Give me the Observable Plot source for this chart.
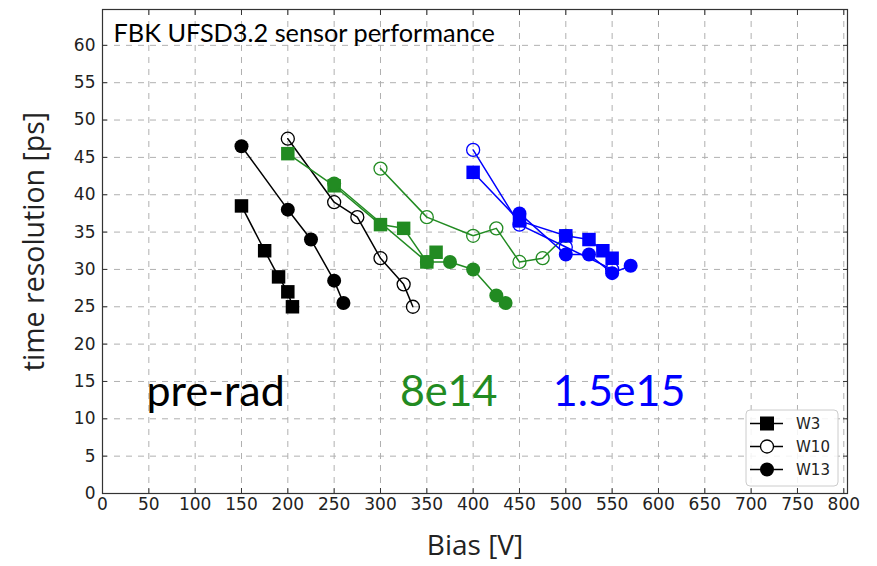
<!DOCTYPE html>
<html><head><meta charset="utf-8">
<script src="https://cdn.jsdelivr.net/npm/d3@7"></script>
<script src="https://cdn.jsdelivr.net/npm/@observablehq/plot@0.6"></script>
<style>body{margin:0;background:#fff}#chart{width:877px;height:566px}</style>
</head><body><div id="chart"></div>
<script>
// ---- tick labels ----
const xTicks = [0,50,100,150,200,250,300,350,400,450,500,550,600,650,700,750,800];
const yTicks = [0,5,10,15,20,25,30,35,40,45,50,55,60];

// ---- series (bias [V], time resolution [ps]) ----
const preW3Bias  = [150,175,190,200,205];
const preW3Res   = [38.5,32.5,29,27,25];
const preW10Bias = [200,250,275,300,325,335];
const preW10Res  = [47.5,39,37,31.5,28,25];
const preW13Bias = [150,200,225,250,260];
const preW13Res  = [46.5,38,34,28.5,25.5];

const midW3Bias  = [200,250,300,325,350,360];
const midW3Res   = [45.5,41.2,36,35.5,31,32.3];
const midW10Bias = [300,350,400,425,450,475,500];
const midW10Res  = [43.5,37,34.5,35.5,31,31.5,34.5];
const midW13Bias = [250,350,375,400,425,435];
const midW13Res  = [41.5,31,31,30,26.5,25.5];

const hiW3Bias   = [400,450,500,525,540,550];
const hiW3Res    = [43,36.5,34.5,34,32.5,31.5];
const hiW10Bias  = [400,450,500,550];
const hiW10Res   = [46,36,33,30];
const hiW13Bias  = [450,500,525,550,570];
const hiW13Res   = [37.5,32,32,29.5,30.5];

const fluences = ["pre-rad","8e14","1.5e15"];
const sensors = ["W3","W10","W13"];
const fluenceColors = ["#000000","#228b22","#0000ff"];

const series = [
  {fluence:"pre-rad", sensor:"W3",  bias:preW3Bias,  res:preW3Res},
  {fluence:"pre-rad", sensor:"W10", bias:preW10Bias, res:preW10Res},
  {fluence:"pre-rad", sensor:"W13", bias:preW13Bias, res:preW13Res},
  {fluence:"8e14",    sensor:"W3",  bias:midW3Bias,  res:midW3Res},
  {fluence:"8e14",    sensor:"W10", bias:midW10Bias, res:midW10Res},
  {fluence:"8e14",    sensor:"W13", bias:midW13Bias, res:midW13Res},
  {fluence:"1.5e15",  sensor:"W3",  bias:hiW3Bias,   res:hiW3Res},
  {fluence:"1.5e15",  sensor:"W10", bias:hiW10Bias,  res:hiW10Res},
  {fluence:"1.5e15",  sensor:"W13", bias:hiW13Bias,  res:hiW13Res}
];

// annotation labels (data coordinates)
const annoText = ["pre-rad","8e14","1.5e15"];
const annoBias = [47.5,321,486];
const annoRes  = [13.5,13.5,13.5];

const colorOf = f => fluenceColors[fluences.indexOf(f)];

const marks = [
  Plot.gridX(xTicks, {stroke:"#b0b0b0", strokeOpacity:1, strokeDasharray:"6,6"}),
  Plot.gridY(yTicks, {stroke:"#b0b0b0", strokeOpacity:1, strokeDasharray:"6,6"}),
  Plot.frame({stroke:"#333", strokeWidth:1.2}),
  Plot.axisX(xTicks, {anchor:"bottom", tickSize:-5, tickFormat:()=>"", stroke:"#333"}),
  Plot.axisX(xTicks, {anchor:"top", tickSize:-5, tickFormat:()=>"", stroke:"#333", label:null}),
  Plot.axisY(yTicks, {anchor:"left", tickSize:-5, tickFormat:()=>"", stroke:"#333"}),
  Plot.axisY(yTicks, {anchor:"right", tickSize:-5, tickFormat:()=>"", stroke:"#333", label:null}),
  Plot.axisX(xTicks, {anchor:"bottom", tickSize:0, tickPadding:4, label:null, fontSize:17, fill:"#222"}),
  Plot.axisY(yTicks, {anchor:"left", tickSize:0, tickPadding:7, label:null, fontSize:17, fill:"#222"})
];

for (const s of series) {
  const rows = s.bias.map((b,i) => ({bias:b, res:s.res[i]}));
  const c = colorOf(s.fluence);
  marks.push(Plot.line(rows, {x:"bias", y:"res", stroke:c, strokeWidth:1.5, curve:"linear"}));
  if (s.sensor === "W3") {
    marks.push(Plot.dot(rows, {x:"bias", y:"res", symbol:"square", r:7.6, fill:c, stroke:"none"}));
  } else if (s.sensor === "W10") {
    marks.push(Plot.dot(rows, {x:"bias", y:"res", symbol:"circle", r:6.5, fill:"none", stroke:c, strokeWidth:1.3}));
  } else {
    marks.push(Plot.dot(rows, {x:"bias", y:"res", symbol:"circle", r:7, fill:c, stroke:"none"}));
  }
}

marks.push(Plot.text(annoText.map((t,i)=>({t, x:annoBias[i], y:annoRes[i], c:fluenceColors[i]})),
  {x:"x", y:"y", text:"t", fill:d=>d.c, textAnchor:"start", lineAnchor:"middle", fontSize:43, fontFamily:"Lato"}));
marks.push(Plot.text(["FBK UFSD3.2 sensor performance"],
  {frameAnchor:"top-left", dx:11, dy:24, textAnchor:"start", lineAnchor:"middle", fontSize:25.3, fontFamily:"Lato", fill:"#000"}));
marks.push(Plot.text(["Bias [V]"],
  {frameAnchor:"bottom", dy:53, textAnchor:"middle", lineAnchor:"middle", fontSize:28, fontFamily:"Open Sans", fill:"#222"}));
marks.push(Plot.text(["time resolution [ps]"],
  {frameAnchor:"left", dx:-68, dy:-10, rotate:-90, textAnchor:"middle", lineAnchor:"middle", fontSize:28.5, fontFamily:"Open Sans", fill:"#222"}));

const plot = Plot.plot({
  width:877, height:566,
  marginLeft:102, marginRight:30, marginTop:9, marginBottom:73,
  x:{domain:[0,804]},
  y:{domain:[0,64.8]},
  style:{fontFamily:"DejaVu Sans", fontSize:"17px", color:"#222", background:"#fff"},
  marks
});
document.getElementById("chart").appendChild(plot);

// ---- legend ----
const svg = d3.select(plot);
const lg = svg.append("g");
lg.append("rect").attr("x",746).attr("y",410).attr("width",92).attr("height",76).attr("rx",4)
  .attr("fill","#fff").attr("fill-opacity",0.85).attr("stroke","#cccccc");
sensors.forEach((name,i) => {
  const cy = 423.5 + i*23;
  lg.append("line").attr("x1",750).attr("x2",783).attr("y1",cy).attr("y2",cy).attr("stroke","#000").attr("stroke-width",1.5);
  if (name === "W3") lg.append("rect").attr("x",760).attr("y",cy-7).attr("width",14).attr("height",14).attr("fill","#000");
  else if (name === "W10") lg.append("circle").attr("cx",767).attr("cy",cy).attr("r",6.5).attr("fill","#fff").attr("stroke","#000").attr("stroke-width",1.3);
  else lg.append("circle").attr("cx",767).attr("cy",cy).attr("r",7).attr("fill","#000");
  lg.append("text").attr("x",796).attr("y",cy).attr("dy","0.36em").attr("text-anchor","start")
    .attr("font-size",15).attr("font-family","DejaVu Sans").attr("fill","#222").text(name);
});
</script>
</body></html>
